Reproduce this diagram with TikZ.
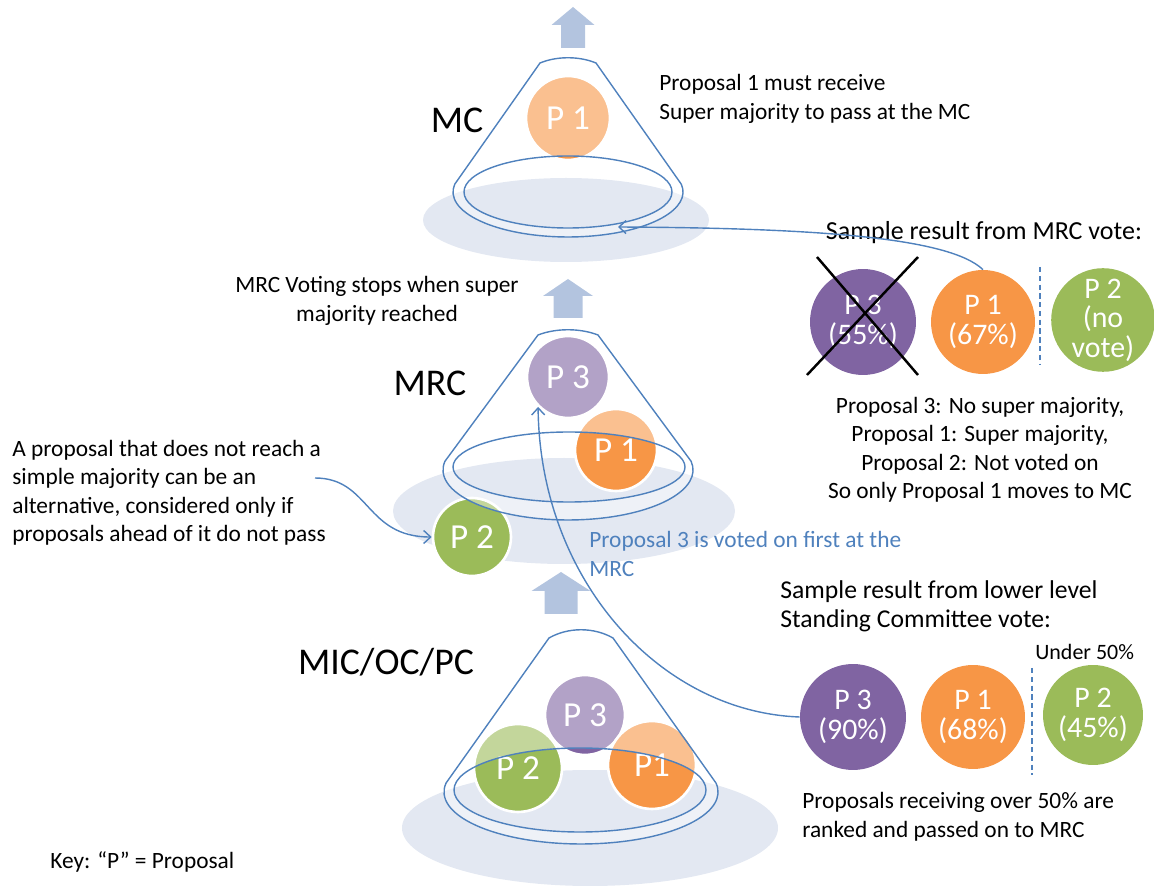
\documentclass[tikz,border=0pt]{standalone}
\usepackage{fontspec}
\setmainfont{Carlito}
\usetikzlibrary{arrows.meta}
\definecolor{pone}{HTML}{F79646}
\definecolor{ptwo}{HTML}{9BBB59}
\definecolor{pthree}{HTML}{8064A2}
\definecolor{rimblue}{HTML}{4F81BD}
\definecolor{flow}{HTML}{B3C4DF}
\definecolor{disc}{HTML}{E3E8F2}

% cone: centre x, half top width, shoulder y, top rise, rim centre y, rim x radius, rim y radius
\newcommand{\conepath}[7]{%
  (#1-#2,#3) .. controls (#1-#2*0.4,#3-#4) and (#1+#2*0.4,#3-#4) .. (#1+#2,#3)
  -- (#1+#6*0.985,#5-#7*0.174)
  arc[start angle=-10, end angle=190, x radius=#6, y radius=#7] -- cycle}
% block arrow: centre x, tip y, head base y, tail y, head half width, shaft half width
\newcommand{\blockarrow}[6]{%
  \fill[flow] (#1-#6,#4) -- (#1-#6,#3) -- (#1-#5,#3) -- (#1,#2)
    -- (#1+#5,#3) -- (#1+#6,#3) -- (#1+#6,#4) -- cycle;}

\begin{document}
\begin{tikzpicture}[
  x=0.02cm, y=-0.02cm,
  prop/.style={circle, draw=white, line width=1.5pt, inner sep=0pt, text=white,
               font=\fontsize{20}{22}\selectfont},
  vote/.style={circle, inner sep=0pt, text=white, align=center,
               font=\fontsize{17}{16.8}\selectfont},
  level/.style={font=\fontsize{21.5}{24}\selectfont, inner sep=0pt},
  note/.style={font=\fontsize{13.3}{16.2}\selectfont, inner sep=0pt},
  rim/.style={draw=rimblue, line width=0.8pt},
  link/.style={draw=rimblue, line width=0.8pt, -{Straight Barb[length=1.4mm,width=2.6mm]}},
  split/.style={draw=rimblue, line width=1.2pt, dash pattern=on 3pt off 2pt},
  glass/.style={fill=white, opacity=0.4, even odd rule}
]
  \useasboundingbox (0,0) rectangle (1154,888);

  % Discs under the cones
  \fill[disc] (566,220) ellipse[x radius=143, y radius=42];
  \fill[disc] (564,511) ellipse[x radius=171, y radius=53];
  \fill[disc] (590,828) ellipse[x radius=188, y radius=58];

  % Block arrows
  \blockarrow{573}{7}{25}{48}{21.5}{12}
  \blockarrow{568}{279}{296}{318}{25}{14.5}
  \blockarrow{561}{572}{591}{614}{29.5}{16.5}

  % Proposals in the cones
  \node[prop, fill=pone, minimum size=1.68cm] (mcp1) at (568,118) {P 1};
  \node[prop, fill=pthree, minimum size=1.64cm] (mrcp3) at (568,377) {P 3};
  \node[prop, fill=pone, minimum size=1.64cm] (mrcp1) at (616,450) {P 1};
  \node[prop, fill=ptwo, minimum size=1.56cm] (mrcp2) at (472,537) {P 2};
  \node[prop, fill=pthree, minimum size=1.6cm] (lowp3) at (585,715) {P 3};
  \node[prop, fill=ptwo, minimum size=1.76cm] (lowp2) at (518,768) {P 2};
  \node[prop, fill=pone, minimum size=1.76cm] (lowp1) at (652,765) {P1};

  % Glass over the cones
  \fill[glass] \conepath{568}{28}{63}{7}{192}{115}{45} (568,192) ellipse[x radius=104, y radius=36];
  \fill[glass] \conepath{568}{30}{335}{7}{470}{125}{50} (569,467) ellipse[x radius=116, y radius=35];
  \fill[glass] \conepath{581}{32}{638}{11}{792}{137}{52} (580,790) ellipse[x radius=126, y radius=42];

  % Cone rims
  \draw[rim] \conepath{568}{28}{63}{7}{192}{115}{45};
  \draw[rim] (568,192) ellipse[x radius=104, y radius=36];
  \draw[rim] \conepath{568}{30}{335}{7}{470}{125}{50};
  \draw[rim] (569,467) ellipse[x radius=116, y radius=35];
  \draw[rim] \conepath{581}{32}{638}{11}{792}{137}{52};
  \draw[rim] (580,790) ellipse[x radius=126, y radius=42];

  % Level names
  \node[level] (mclabel) at (457,120) {MC};
  \node[level] (mrclabel) at (430,383) {MRC};
  \node[level] (lowlabel) at (386,662) {MIC/OC/PC};

  % Notes
  \node[note, anchor=west, align=left] (mcnote) at (659,99)
    {Proposal 1 must receive\\Super majority to pass at the MC};
  \node[note, align=center] (stopnote) at (377,301)
    {MRC Voting stops when super\\majority reached};
  \node[note, anchor=west, align=left] (altnote) at (12,493)
    {A proposal that does not reach a\\simple majority can be an\\alternative, considered only if\\proposals ahead of it do not pass};
  \node[note, anchor=west, align=left, text=rimblue] (firstnote) at (589,554)
    {Proposal 3 is voted on first at the\\MRC};
  \node[note, anchor=west] (key) at (50,862) {Key: “P” = Proposal};

  % MRC vote
  \node[note, font=\fontsize{14.8}{17}\selectfont] (mrchead) at (984,233) {Sample result from MRC vote:};
  \node[vote, fill=pthree, minimum size=2.12cm] (vmp3) at (863,322) {P 3\\(55\%)};
  \node[vote, fill=pone, minimum size=2.08cm] (vmp1) at (983,322) {P 1\\(67\%)};
  \node[vote, fill=ptwo, minimum size=2cm] (vmp2) at (1103,320) {P 2\\(no\\vote)};
  \draw[split] (1040,267) -- (1040,364);
  \draw[line width=1.4pt] (807,375) -- (918,257);
  \draw[line width=1.4pt] (817,257) -- (918,375);
  \node[note, align=center] (mrcsum) at (980,450)
    {Proposal 3: No super majority,\\Proposal 1: Super majority,\\Proposal 2: Not voted on\\So only Proposal 1 moves to MC};

  % Lower level vote
  \node[note, anchor=west, align=left, font=\fontsize{14.6}{16.5}\selectfont] (lowhead) at (780,606)
    {Sample result from lower level\\Standing Committee vote:};
  \node[note, anchor=west, font=\fontsize{12.5}{14}\selectfont] (under) at (1035,652) {Under 50\%};
  \node[vote, fill=pthree, minimum size=2.12cm] (vlp3) at (853,717) {P 3\\(90\%)};
  \node[vote, fill=pone, minimum size=2.08cm] (vlp1) at (973,717) {P 1\\(68\%)};
  \node[vote, fill=ptwo, minimum size=2cm] (vlp2) at (1093,715) {P 2\\(45\%)};
  \draw[split] (1032,668) -- (1032,775);
  \node[note, anchor=west, align=left] (lowsum) at (802,817)
    {Proposals receiving over 50\% are\\ranked and passed on to MRC};

  % Connections
  \coordinate (mcrim) at (618,227);
  \coordinate (altend) at (315,478);
  \draw[link] (vmp1.north) .. controls (950,238) and (820,228) .. (mcrim);
  \draw[link] (vlp3.west) .. controls (660,712) and (540,580) .. (mrcp3.225);
  \draw[link] (altend) .. controls (370,478) and (365,537) .. (mrcp2.west);
\end{tikzpicture}
\end{document}
